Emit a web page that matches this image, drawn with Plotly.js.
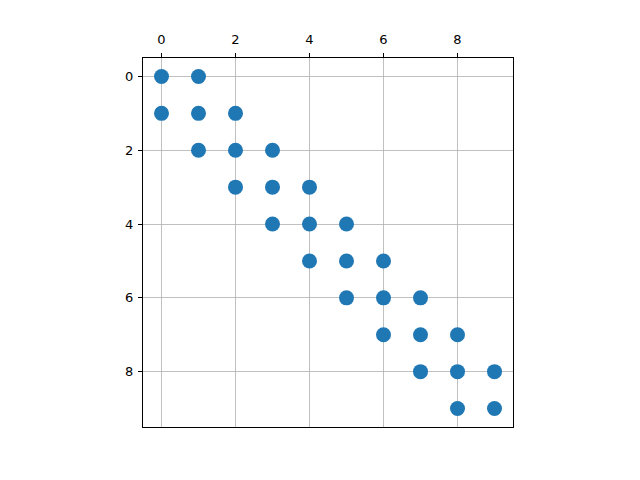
<!DOCTYPE html>
<html>
<head>
<meta charset="utf-8">
<script src="https://cdn.plot.ly/plotly-3.0.1.min.js"></script>
<style>html,body{margin:0;padding:0;background:#fff;}#chart{width:640px;height:480px;}</style>
</head>
<body>
<div id="chart"></div>
<script>
// Nonzero entries of a 10x10 tridiagonal matrix (spy plot)
const rowIdx = [0,0, 1,1,1, 2,2,2, 3,3,3, 4,4,4, 5,5,5, 6,6,6, 7,7,7, 8,8,8, 9,9];
const colIdx = [0,1, 0,1,2, 1,2,3, 2,3,4, 3,4,5, 4,5,6, 5,6,7, 6,7,8, 7,8,9, 8,9];
const tickVals = [0,2,4,6,8];
const tickText = ['0','2','4','6','8'];

const trace = {
  x: colIdx, y: rowIdx, type: 'scatter', mode: 'markers',
  marker: {color: '#1f77b4', size: 15, line: {width: 0}},
  hoverinfo: 'x+y'
};
const axisCommon = {
  showline: true, mirror: true, linecolor: '#000', linewidth: 1,
  ticks: 'outside', ticklen: 4, tickwidth: 1, tickcolor: '#000',
  showgrid: true, gridcolor: '#b0b0b0', gridwidth: 0.8, zeroline: false,
  tickvals: tickVals, ticktext: tickText,
  tickfont: {family: 'DejaVu Sans', size: 13, color: '#000'}
};
const layout = {
  width: 640, height: 480,
  margin: {l: 143, r: 127, t: 58, b: 53},
  paper_bgcolor: '#fff', plot_bgcolor: '#fff',
  showlegend: false,
  xaxis: Object.assign({}, axisCommon, {range: [-0.5, 9.5], side: 'top', ticklabelstandoff: 4}),
  yaxis: Object.assign({}, axisCommon, {range: [9.5, -0.5], ticklabelstandoff: 2})
};
Plotly.newPlot('chart', [trace], layout, {displayModeBar: false, staticPlot: true});
</script>
</body>
</html>
